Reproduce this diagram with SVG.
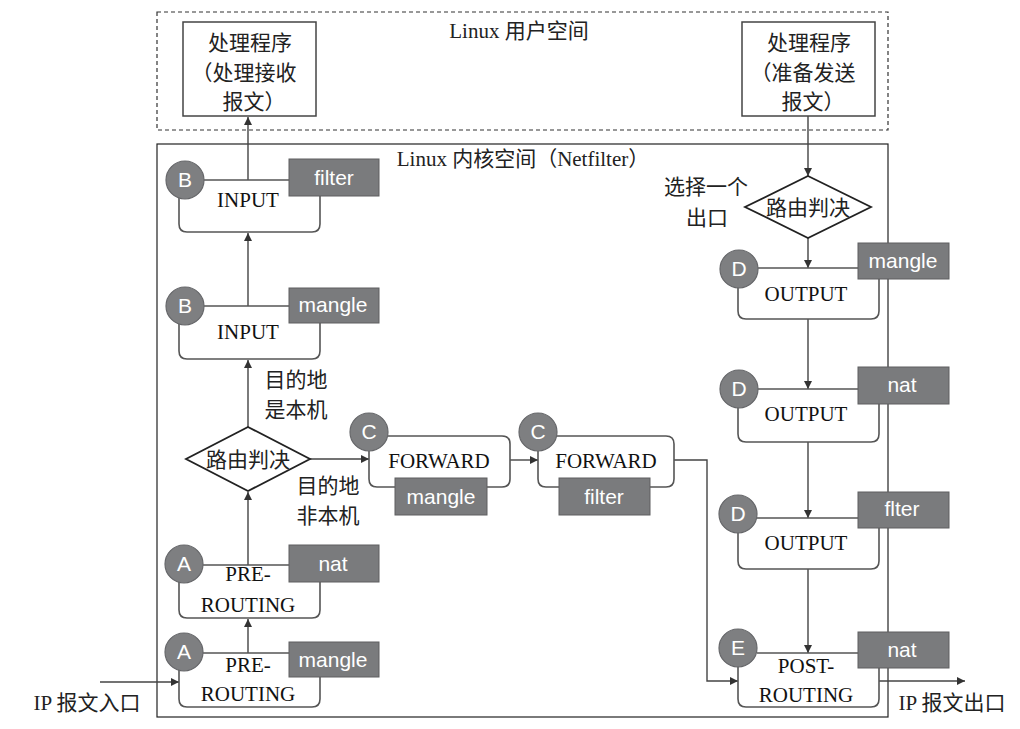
<svg xmlns="http://www.w3.org/2000/svg" width="1020" height="729" viewBox="0 0 1020 729">
<defs>
<marker id="ah" viewBox="0 0 10 10" refX="10" refY="5" markerWidth="8" markerHeight="8" markerUnits="userSpaceOnUse" orient="auto">
<path d="M0,0 L10,5 L0,10 Z" fill="#333"/>
</marker>
<style>
.bg{fill:#fff}
.box{fill:none;stroke:#555;stroke-width:1.6}
.frame{fill:none;stroke:#222;stroke-width:1.2}
.dash{fill:none;stroke:#333;stroke-width:1.2;stroke-dasharray:4 3}
.prog{fill:#fff;stroke:#444;stroke-width:1.5}
.tag{fill:#7a7b7d;stroke:#5e5f61;stroke-width:1}
.circ{fill:#7e7f81;stroke:#66676a;stroke-width:1.2}
.dia{fill:#fff;stroke:#222;stroke-width:1.8}
.con{fill:none;stroke:#444;stroke-width:1.4;marker-end:url(#ah)}
.t{font-family:"Liberation Serif","Noto Sans CJK SC",serif;font-size:21px;fill:#111;text-anchor:middle}
.cjk{font-family:"Liberation Serif","Noto Sans CJK SC",sans-serif;font-size:21px;fill:#222;text-anchor:middle}
.tw{font-family:"Liberation Sans",Arial,sans-serif;font-size:21px;fill:#fff;text-anchor:middle}
</style>
</defs>
<rect width="1020" height="729" fill="#fff"/>

<g id="user-space">
<rect class="dash" x="157" y="12" width="731" height="118"/>
<text class="cjk" x="519" y="38" font-size="20">Linux 用户空间</text>
</g>
<g id="kernel-space">
<rect class="frame" x="157" y="144" width="731" height="573"/>
<text class="cjk" x="523" y="166" font-size="20">Linux 内核空间（Netfilter）</text>
</g>

<g id="connectors">
<path class="con" d="M248,180 V117"/>
<path class="con" d="M248,306 V233"/>
<path class="con" d="M248,427 V360"/>
<path class="con" d="M248,565 V492"/>
<path class="con" d="M248,653 V619"/>
<path class="con" d="M100,682 H179"/>
<path class="con" d="M310,459 H369"/>
<path class="con" d="M510,460 H538"/>
<path class="con" d="M674,460 H707 V681 H738"/>
<path class="con" d="M808,116 V176"/>
<path class="con" d="M808,238 V268"/>
<path class="con" d="M808,319 V389"/>
<path class="con" d="M808,442 V518"/>
<path class="con" d="M808,569 V653"/>
<path class="con" d="M879,681 H965"/>
</g>

<g id="prog-recv">
<rect class="prog" x="183" y="22" width="133" height="94"/>
<text class="cjk" x="250" y="50" font-size="22">处理程序</text>
<text class="cjk" x="244" y="80" font-size="22">（处理接收</text>
<text class="cjk" x="254" y="109" font-size="22">报文）</text>
</g>
<g id="prog-send">
<rect class="prog" x="742" y="22" width="133" height="94"/>
<text class="cjk" x="809" y="50" font-size="22">处理程序</text>
<text class="cjk" x="803" y="80" font-size="22">（准备发送</text>
<text class="cjk" x="813" y="109" font-size="22">报文）</text>
</g>

<g id="input-filter">
<path class="box" d="M204,180 H289 M179,197 V224 Q179,232 187,232 H312 Q320,232 320,224 V196"/>
<rect class="tag" x="289" y="159" width="90" height="37"/>
<text class="tw" x="334" y="185">filter</text>
<circle class="circ" cx="185" cy="180" r="19"/>
<text class="tw" x="185" y="187">B</text>
<text class="t" x="248" y="207">INPUT</text>
</g>

<g id="input-mangle">
<path class="box" d="M204,306 H289 M179,323 V351 Q179,359 187,359 H312 Q320,359 320,351 V323"/>
<rect class="tag" x="289" y="288" width="90" height="35"/>
<text class="tw" x="333" y="312">mangle</text>
<circle class="circ" cx="185" cy="306" r="19"/>
<text class="tw" x="185" y="313">B</text>
<text class="t" x="248" y="339">INPUT</text>
</g>

<g id="route-in">
<polygon class="dia" points="248,427 310,459 248,491 186,459"/>
<text class="cjk" x="248" y="467">路由判决</text>
</g>
<g id="label-local">
<text class="cjk" x="296" y="387">目的地</text>
<text class="cjk" x="296" y="417">是本机</text>
</g>
<g id="label-nonlocal">
<text class="cjk" x="328" y="493">目的地</text>
<text class="cjk" x="328" y="523">非本机</text>
</g>

<g id="prerouting-nat">
<path class="box" d="M203,565 H289 M179,582 V610 Q179,618 187,618 H312 Q320,618 320,610 V582"/>
<rect class="tag" x="289" y="545" width="90" height="37"/>
<text class="tw" x="333" y="571">nat</text>
<circle class="circ" cx="184" cy="564" r="19"/>
<text class="tw" x="184" y="571">A</text>
<text class="t" x="248" y="581">PRE-</text>
<text class="t" x="248" y="612">ROUTING</text>
</g>

<g id="prerouting-mangle">
<path class="box" d="M203,653 H289 M179,670 V699 Q179,707 187,707 H312 Q320,707 320,699 V677"/>
<rect class="tag" x="289" y="642" width="90" height="35"/>
<text class="tw" x="333" y="667">mangle</text>
<circle class="circ" cx="184" cy="652" r="19"/>
<text class="tw" x="184" y="659">A</text>
<text class="t" x="248" y="672">PRE-</text>
<text class="t" x="248" y="701">ROUTING</text>
</g>
<g id="label-in">
<text class="cjk" x="87" y="710">IP 报文入口</text>
</g>

<g id="forward-mangle">
<path class="box" d="M388,436 H502 Q510,436 510,444 V479 Q510,487 502,487 H487 M395,487 H377 Q369,487 369,479 V451"/>
<rect class="tag" x="395" y="478" width="92" height="37"/>
<text class="tw" x="441" y="504">mangle</text>
<circle class="circ" cx="369" cy="432" r="19"/>
<text class="tw" x="369" y="439">C</text>
<text class="t" x="439" y="468">FORWARD</text>
</g>

<g id="forward-filter">
<path class="box" d="M557,436 H666 Q674,436 674,444 V479 Q674,487 666,487 H650 M559,487 H546 Q538,487 538,479 V451"/>
<rect class="tag" x="559" y="478" width="91" height="37"/>
<text class="tw" x="604" y="504">filter</text>
<circle class="circ" cx="538" cy="432" r="19"/>
<text class="tw" x="538" y="439">C</text>
<text class="t" x="606" y="468">FORWARD</text>
</g>

<g id="route-out">
<polygon class="dia" points="808,176 871,207 808,238 745,207"/>
<text class="cjk" x="808" y="215">路由判决</text>
</g>
<g id="label-choose">
<text class="cjk" x="706" y="194">选择一个</text>
<text class="cjk" x="707" y="225">出口</text>
</g>

<g id="output-mangle">
<path class="box" d="M758,268 H858 M738,286 V311 Q738,319 746,319 H871 Q879,319 879,311 V279"/>
<rect class="tag" x="858" y="243" width="91" height="36"/>
<text class="tw" x="903" y="268">mangle</text>
<circle class="circ" cx="739" cy="269" r="19"/>
<text class="tw" x="739" y="276">D</text>
<text class="t" x="806" y="301">OUTPUT</text>
</g>

<g id="output-nat">
<path class="box" d="M758,389 H858 M738,406 V434 Q738,442 746,442 H871 Q879,442 879,434 V404"/>
<rect class="tag" x="858" y="367" width="91" height="37"/>
<text class="tw" x="902" y="392">nat</text>
<circle class="circ" cx="739" cy="389" r="19"/>
<text class="tw" x="739" y="396">D</text>
<text class="t" x="806" y="421">OUTPUT</text>
</g>

<g id="output-filter">
<path class="box" d="M757,518 H858 M738,531 V561 Q738,569 746,569 H871 Q879,569 879,561 V528"/>
<rect class="tag" x="858" y="492" width="91" height="36"/>
<text class="tw" x="902" y="516">flter</text>
<circle class="circ" cx="738" cy="514" r="19"/>
<text class="tw" x="738" y="521">D</text>
<text class="t" x="806" y="550">OUTPUT</text>
</g>

<g id="postrouting-nat">
<path class="box" d="M757,653 H858 M738,665 V699 Q738,707 746,707 H871 Q879,707 879,699 V668"/>
<rect class="tag" x="858" y="632" width="91" height="36"/>
<text class="tw" x="902" y="657">nat</text>
<circle class="circ" cx="738" cy="648" r="19"/>
<text class="tw" x="738" y="655">E</text>
<text class="t" x="806" y="673">POST-</text>
<text class="t" x="806" y="702">ROUTING</text>
</g>
<g id="label-out">
<text class="cjk" x="952" y="710">IP 报文出口</text>
</g>
</svg>
